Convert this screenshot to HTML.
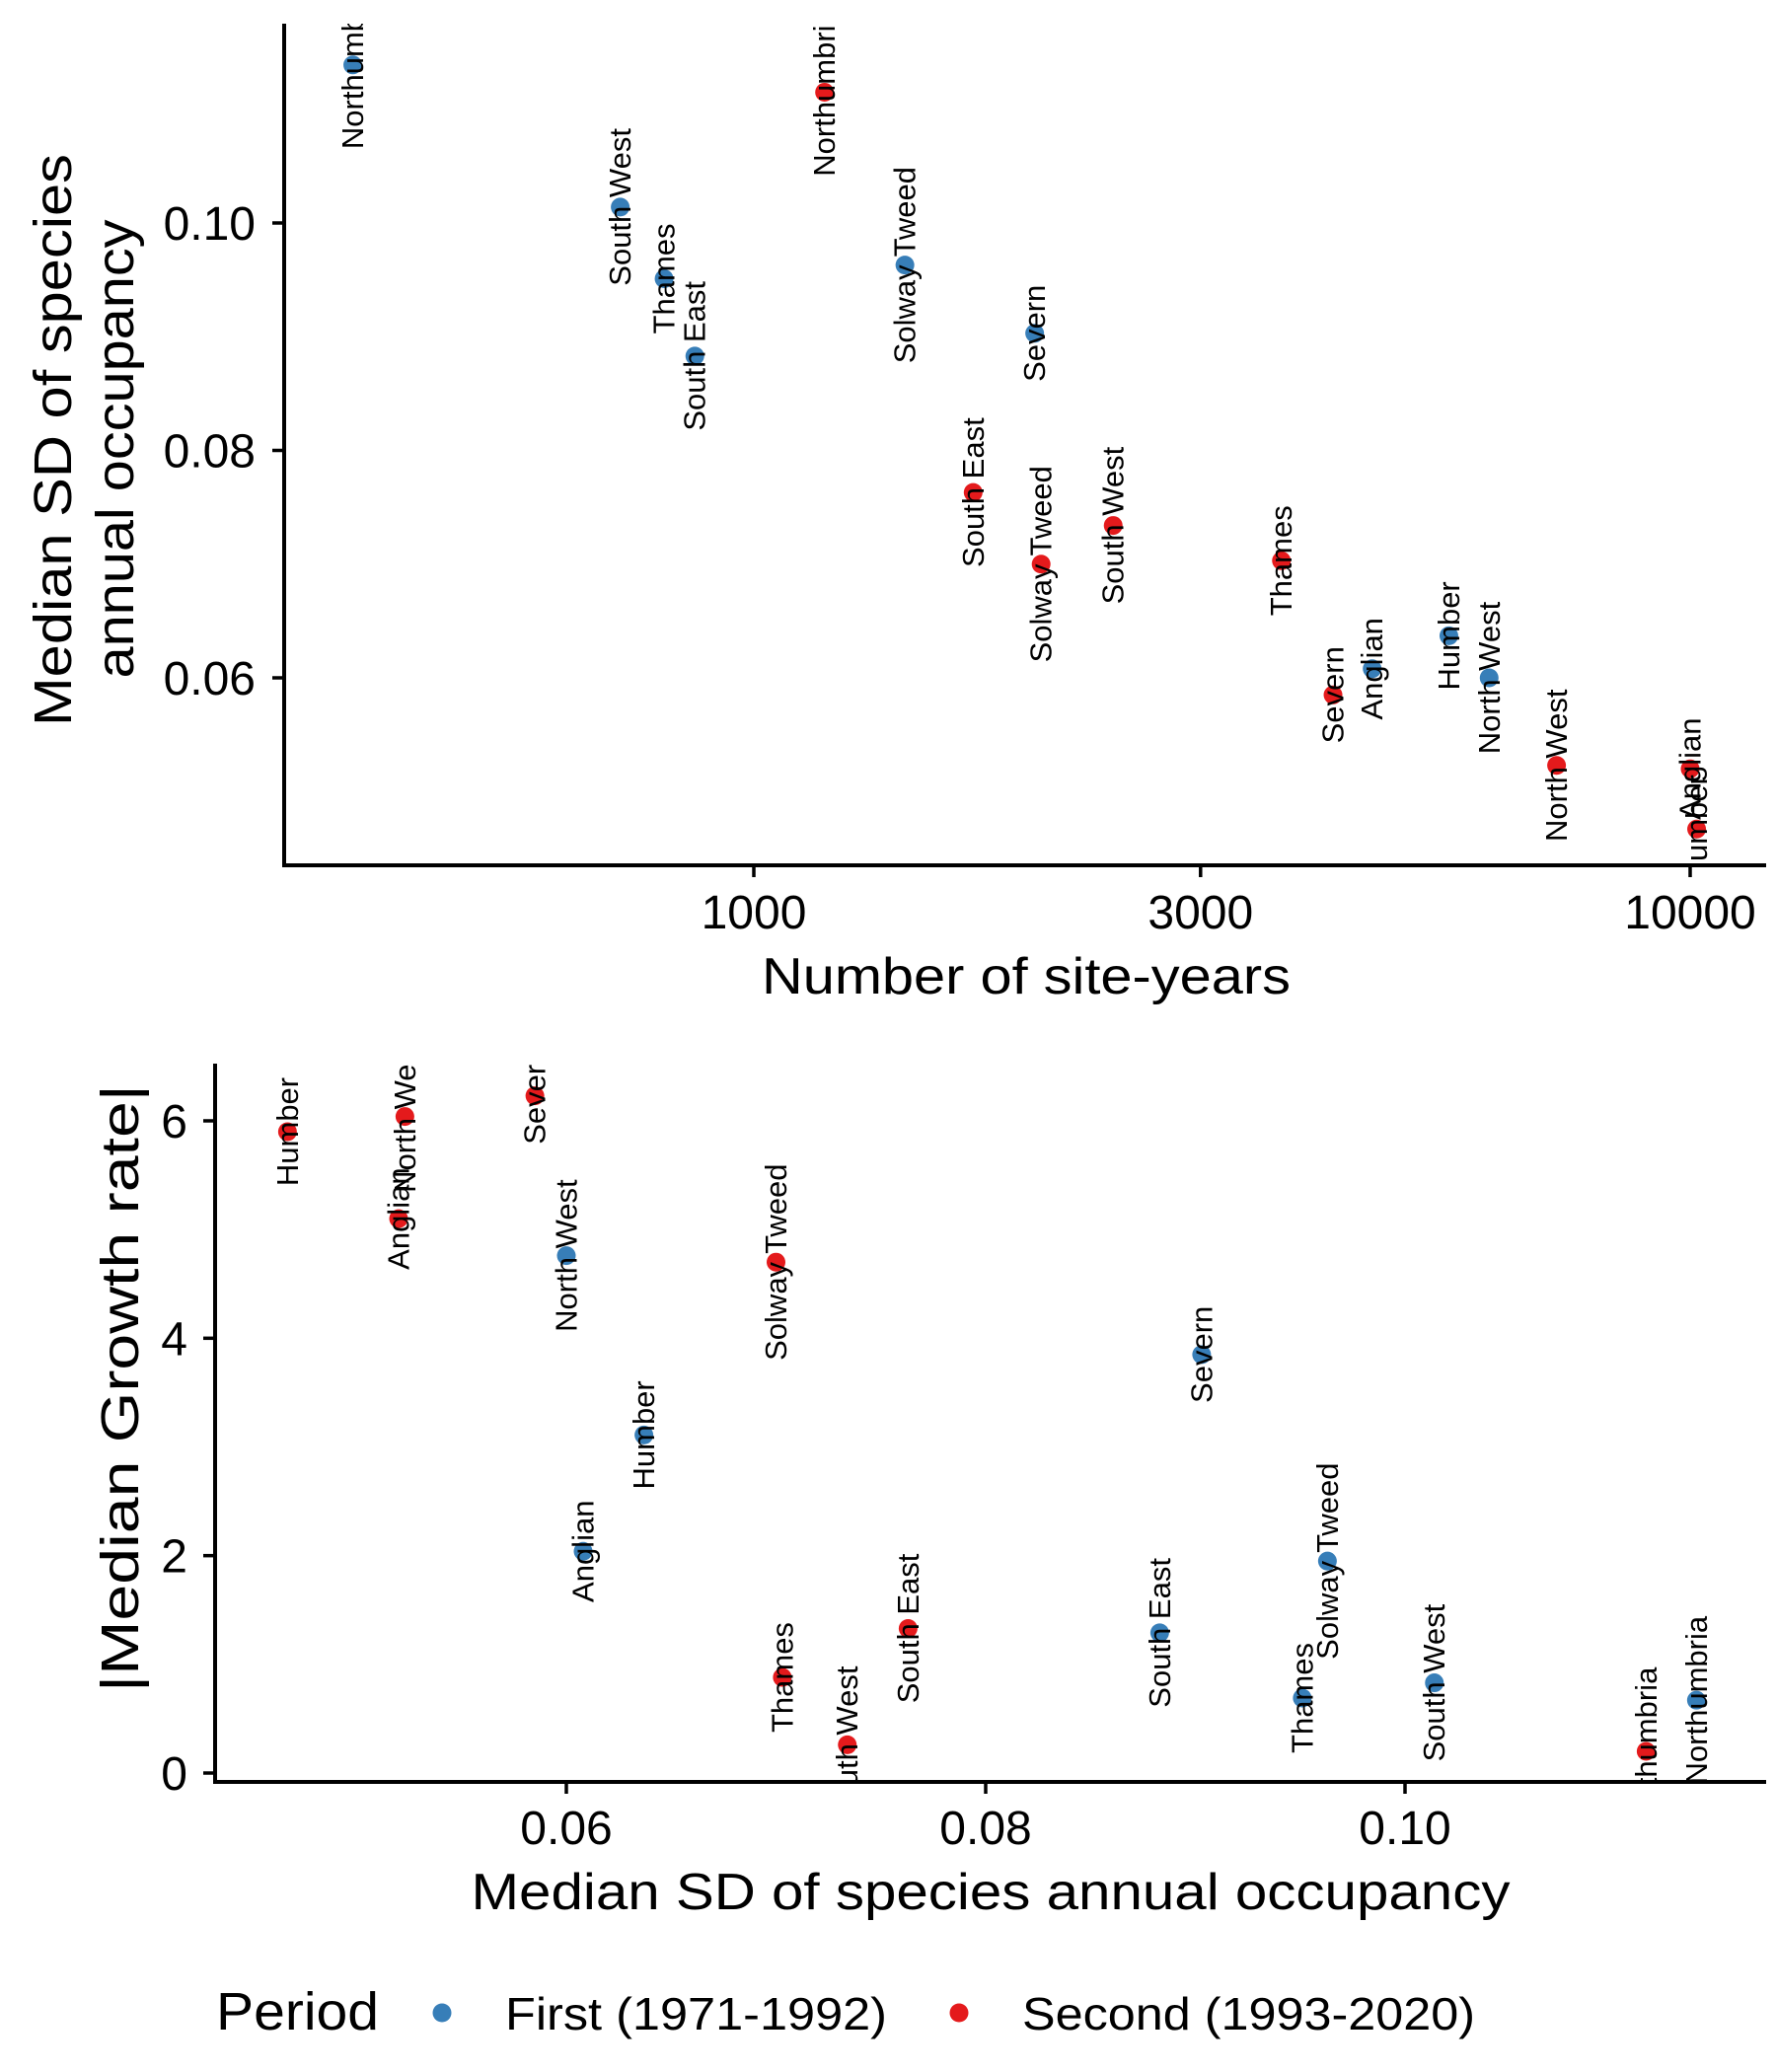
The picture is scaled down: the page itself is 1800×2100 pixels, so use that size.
<!DOCTYPE html>
<html><head><meta charset="utf-8"><style>
html,body{margin:0;padding:0;background:#fff;}
svg{display:block;font-family:"Liberation Sans",Arial,sans-serif;}
</style></head><body>
<svg id="chart" width="1800" height="2100" viewBox="0 0 1800 2100" xmlns="http://www.w3.org/2000/svg">
<defs>
<clipPath id="clipTop"><rect x="288" y="24" width="1502" height="853"/></clipPath>
<clipPath id="clipBot"><rect x="218" y="1078" width="1572" height="726"/></clipPath>
</defs>
<g id="topPanel"></g>
<g id="botPanel"></g>
<g id="legend"></g>
</svg>
<script>
const regions = ["Northumbria","South West","Thames","South East","Solway Tweed","Severn","Humber","Anglian","North West"];
const firstSites = [373,720,802,865,1450,1995,5525,4575,6100];
const firstSD = [0.1139,0.1014,0.0951,0.0883,0.0963,0.0903,0.0637,0.0608,0.0600];
const firstGrowth = [0.67,0.83,0.69,1.29,1.95,3.85,3.11,2.04,4.76];
const secondSites = [1190,2420,3660,1715,2027,4155,10160,10000,7200];
const secondSD = [0.1115,0.0734,0.0703,0.0763,0.0700,0.0585,0.0467,0.0520,0.0523];
const secondGrowth = [0.20,0.26,0.88,1.33,4.70,6.23,5.90,5.10,6.04];
const topXTicks = [1000,3000,10000];
const topYTicks = [0.06,0.08,0.10];
const botXTicks = [0.06,0.08,0.10];
const botYTicks = [0,2,4,6];
const colors = {first:"#377EB8", second:"#E41A1C"};

const NS="http://www.w3.org/2000/svg";
const R=9.5, TF=48;
function mk(tag, attrs, parent, text){
  const e=document.createElementNS(NS,tag);
  for(const k in attrs) e.setAttribute(k,attrs[k]);
  if(text!==undefined) e.textContent=text;
  parent.appendChild(e); return e;
}
const txS = n => 764 + 949*Math.log10(n/1000);
const tyS = v => 226 + (0.10 - v)*11525;
const bxS = v => 574 + (v - 0.06)*21250;
const byS = g => 1797 - g*110.17;

function axes(g, ax, ay, x1, y0){
  const a=mk('line',{x1:ax,y1:y0,x2:ax,y2:ay,stroke:'#000','stroke-width':4},g);
  
  
  const b=mk('line',{x1:ax-2,y1:ay,x2:x1,y2:ay,stroke:'#000','stroke-width':4},g);
  
  
}
function points(g, clip, xs, ys, xf, yf, col, period){
  const pg=mk('g',{'clip-path':'url(#'+clip+')'},g);
  
  
  for(let i=0;i<regions.length;i++){
    const c=mk('circle',{cx:xf(xs[i]),cy:yf(ys[i]),r:R,fill:col},pg);
    
    
  }
}
function labels(g, clip, xs, ys, xf, yf, period){
  const lg=mk('g',{'clip-path':'url(#'+clip+')'},g);
  
  
  for(let i=0;i<regions.length;i++){
    const cx=xf(xs[i]), cy=yf(ys[i]);
    const t=mk('text',{x:cx,y:cy,'font-size':31,'text-anchor':'middle','dominant-baseline':'central',transform:`rotate(-90 ${cx} ${cy})`},lg,regions[i]);
    
    
  }
}

const topG=document.getElementById('topPanel');
axes(topG,288,877,1790,24);
topXTicks.forEach(v=>{
  const x=txS(v);
  const l=mk('line',{x1:x,y1:877,x2:x,y2:889,stroke:'#000','stroke-width':3.5},topG);
  
  
  const t=mk('text',{x:x,y:941,'font-size':TF,'text-anchor':'middle'},topG,String(v));
  
  
});
topYTicks.forEach(v=>{
  const y=tyS(v);
  const l=mk('line',{x1:276,y1:y,x2:288,y2:y,stroke:'#000','stroke-width':3.5},topG);
  
  
  const t=mk('text',{x:259,y:y+17,'font-size':TF,'text-anchor':'end'},topG,v.toFixed(2));
  
  
});
points(topG,'clipTop',firstSites,firstSD,txS,tyS,colors.first,'first');
points(topG,'clipTop',secondSites,secondSD,txS,tyS,colors.second,'second');
labels(topG,'clipTop',firstSites,firstSD,txS,tyS,'first');
labels(topG,'clipTop',secondSites,secondSD,txS,tyS,'second');
let tt=mk('text',{x:1040,y:1007,'font-size':52,'text-anchor':'middle',textLength:536,lengthAdjust:'spacingAndGlyphs'},topG,'Number of site-years');


tt=mk('text',{x:72,y:446,'font-size':54,'text-anchor':'middle',textLength:580,lengthAdjust:'spacingAndGlyphs',transform:'rotate(-90 72 446)'},topG,'Median SD of species');


tt=mk('text',{x:135,y:455,'font-size':54,'text-anchor':'middle',textLength:465,lengthAdjust:'spacingAndGlyphs',transform:'rotate(-90 135 455)'},topG,'annual occupancy');



const botG=document.getElementById('botPanel');
axes(botG,218,1806,1790,1078);
botXTicks.forEach(v=>{
  const x=bxS(v);
  const l=mk('line',{x1:x,y1:1806,x2:x,y2:1818,stroke:'#000','stroke-width':3.5},botG);
  
  
  const t=mk('text',{x:x,y:1869,'font-size':TF,'text-anchor':'middle'},botG,v.toFixed(2));
  
  
});
botYTicks.forEach(v=>{
  const y=byS(v);
  const l=mk('line',{x1:206,y1:y,x2:218,y2:y,stroke:'#000','stroke-width':3.5},botG);
  
  
  const t=mk('text',{x:190,y:y+17,'font-size':TF,'text-anchor':'end'},botG,String(v));
  
  
});
points(botG,'clipBot',firstSD,firstGrowth,bxS,byS,colors.first,'first');
points(botG,'clipBot',secondSD,secondGrowth,bxS,byS,colors.second,'second');
labels(botG,'clipBot',firstSD,firstGrowth,bxS,byS,'first');
labels(botG,'clipBot',secondSD,secondGrowth,bxS,byS,'second');
tt=mk('text',{x:1004,y:1935,'font-size':52,'text-anchor':'middle',textLength:1053,lengthAdjust:'spacingAndGlyphs'},botG,'Median SD of species annual occupancy');


tt=mk('text',{x:140,y:1407,'font-size':54,'text-anchor':'middle',textLength:616,lengthAdjust:'spacingAndGlyphs',transform:'rotate(-90 140 1407)'},botG,'|Median Growth rate|');



const legG=document.getElementById('legend');
tt=mk('text',{x:219,y:2057,'font-size':54,textLength:165,lengthAdjust:'spacingAndGlyphs'},legG,'Period');


let c=mk('circle',{cx:448,cy:2040,r:R,fill:colors.first},legG);


tt=mk('text',{x:512,y:2057,'font-size':46,textLength:387,lengthAdjust:'spacingAndGlyphs'},legG,'First (1971-1992)');


c=mk('circle',{cx:972,cy:2040,r:R,fill:colors.second},legG);


tt=mk('text',{x:1036,y:2057,'font-size':46,textLength:459,lengthAdjust:'spacingAndGlyphs'},legG,'Second (1993-2020)');


</script>
</body></html>
